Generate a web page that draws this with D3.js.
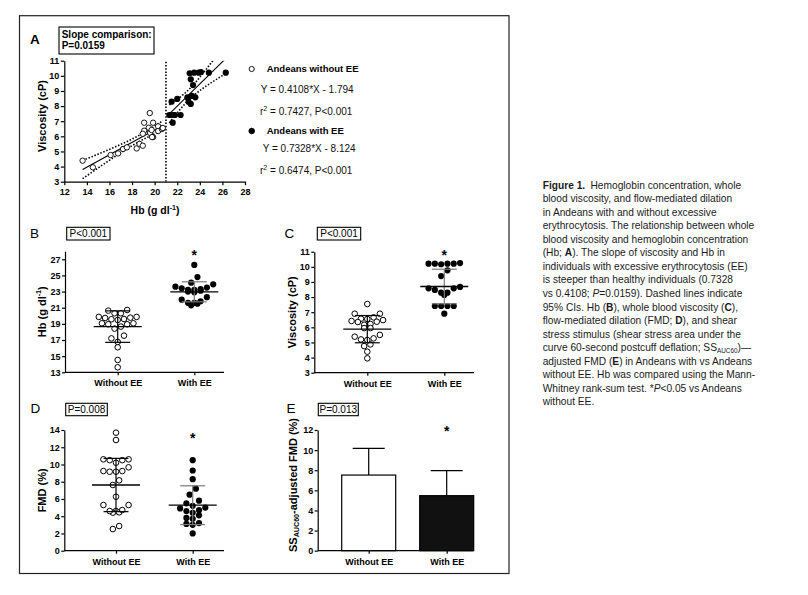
<!DOCTYPE html>
<html><head><meta charset="utf-8">
<script src="https://cdn.jsdelivr.net/npm/d3@7"></script>
<style>
body{margin:0;background:#fff;}
svg{display:block;font-family:"Liberation Sans",Arial,Helvetica,sans-serif;}
</style></head><body>
<svg id="c" width="808" height="595"></svg>
<script>
// ---------------- DATA ----------------
const groups = ["Without EE", "With EE"];
// paired per subject (Hb, viscosity)
const hbWithout   = [13.62,14.53,16.10,16.76,17.20,17.54,18.41,18.66,18.95,19.57,19.07,19.07,18.95,19.48,19.60,19.86,19.73,19.86,20.31,20.31,20.64,20.72,19.77];
const viscWithout = [4.39,3.95,4.76,4.87,5.16,5.27,5.20,5.50,5.38,7.54,6.90,6.37,6.17,6.57,6.22,6.90,6.42,5.95,6.66,6.35,6.48,6.55,5.95];
const hbWith      = [23.1,23.5,23.9,24.1,24.8,26.3,23.2,23.4,21.5,22.0,22.9,23.0,23.6,23.3,23.2,21.3,21.6,21.8,22.3,21.6];
const viscWith    = [10.17,10.21,10.21,10.25,10.21,10.21,9.77,9.39,8.29,8.47,8.58,8.29,8.58,8.67,8.14,7.41,7.41,7.41,7.41,6.90];
const fmdWithout  = [13.69,12.84,10.6,10.5,10.5,10.6,10.2,9.67,9.24,9.16,9.16,9.24,8.16,7.62,6.26,5.3,5.3,4.6,4.45,4.41,4.6,4.72,2.51,2.86];
const fmdWith     = [10.5,9.3,8.3,7.2,6.5,5.8,5.2,5.5,5.0,4.9,4.7,4.6,4.4,4.1,3.8,3.7,3.1,3.0,3.2,2.0];
const hbMean = [18.66, 22.97],  hbSD = [1.95, 1.24];
const viscMean = [5.88, 8.70],  viscSD = [0.90, 1.14];
const fmdMean = [7.62, 5.28],   fmdSD = [3.09, 2.25];
const ssFmdMean = [7.52, 5.47], ssFmdSD = [2.66, 2.49];
const fitSlope = [0.4108, 0.7328], fitIntercept = [-1.794, -8.124];
const fitR2 = ["0.7427", "0.6474"], fitP = ["P<0.001", "P<0.001"];
const legendNames = ["Andeans without EE", "Andeans with EE"];
const tCrit = [2.080, 2.101];
const hbThreshold = 21;
const ticksAx = [12,14,16,18,20,22,24,26,28];
const ticksAy = [3,4,5,6,7,8,9,10,11];
const ticksHb = [13,15,17,19,21,23,25,27];
const ticksVisc = [3,4,5,6,7,8,9,10,11];
const ticksFmd = [0,2,4,6,8,10,12,14];
const ticksSS = [0,2,4,6,8,10,12];
const slopeTitle = "Slope comparison:", slopeP = "P=0.0159";
const panelP = {B: "P<0.001", C: "P<0.001", D: "P=0.008", E: "P=0.013"};
const captionLines = [
  [["Figure 1.","b"],[" Hemoglobin concentration, whole","s"]],
  [["blood viscosity, and flow-mediated dilation"]],
  [["in Andeans with and without excessive"]],
  [["erythrocytosis. The relationship between whole"]],
  [["blood viscosity and hemoglobin concentration"]],
  [["(Hb; "],["A","b"],["). The slope of viscosity and Hb in"]],
  [["individuals with excessive erythrocytosis (EE)"]],
  [["is steeper than healthy individuals (0.7328"]],
  [["vs 0.4108; "],["P","i"],["=0.0159). Dashed lines indicate"]],
  [["95% CIs. Hb ("],["B","b"],["), whole blood viscosity ("],["C","b"],["),"]],
  [["flow-mediated dilation (FMD; "],["D","b"],["), and shear"]],
  [["stress stimulus (shear stress area under the"]],
  [["curve 60-second postcuff deflation; SS"],["AUC60","sub"],[")\u2014","up"]],
  [["adjusted FMD ("],["E","b"],[") in Andeans with vs Andeans"]],
  [["without EE. Hb was compared using the Mann-"]],
  [["Whitney rank-sum test. *"],["P","i"],["<0.05 vs Andeans"]],
  [["without EE."]]
];

// ---------------- HELPERS ----------------
const FONT = '"Liberation Sans", Arial, Helvetica, sans-serif';
const svg = d3.select("#c");

function styleAxis(g) {
  g.attr("font-family", FONT).attr("font-size", 9);
  g.select(".domain").attr("stroke", "#000").attr("stroke-width", 1.2);
  g.selectAll(".tick line").attr("stroke", "#000").attr("stroke-width", 1.2);
  g.selectAll(".tick text").attr("font-weight", "bold").attr("fill", "#000");
}
function text(g, x, y, s, o = {}) {
  return g.append("text").attr("x", x).attr("y", y)
    .attr("font-size", o.fs || 10).attr("font-weight", o.fw || "normal")
    .attr("text-anchor", o.anchor || "start").attr("fill", o.fill || "#000").text(s);
}
function rotLabel(g, x, y, parts, fs) {
  const t = g.append("text").attr("transform", `translate(${x},${y}) rotate(-90)`)
    .attr("text-anchor", "middle").attr("font-size", fs).attr("font-weight", "bold").attr("fill", "#000");
  parts.forEach(p => {
    const ts = t.append("tspan").text(p[0]);
    if (p[1] === "sup") ts.attr("font-size", fs * 0.65).attr("dy", -fs * 0.4);
    if (p[1] === "down") ts.attr("dy", fs * 0.4);
    if (p[1] === "sub") ts.attr("font-size", fs * 0.65).attr("dy", fs * 0.2);
    if (p[1] === "up") ts.attr("dy", -fs * 0.2);
  });
  return t;
}
function pBox(g, x, y, w, h, s) {
  g.append("rect").attr("x", x).attr("y", y).attr("width", w).attr("height", h)
    .attr("fill", "#fff").attr("stroke", "#000").attr("stroke-width", 1.1);
  text(g, x + w / 2, y + h / 2 + 3.6, s, {fs: 10, anchor: "middle"});
}
function star(g, x, cy) { text(g, x, cy + 8, "*", {fs: 14, fw: "bold", anchor: "middle"}); }
// Prism-like row layout of scatter dots
function swarm(values, y, d) {
  const idx = values.map((v, i) => i).sort((a, b) => values[b] - values[a]);
  const rows = []; let cur = null;
  idx.forEach(i => {
    const py = y(values[i]);
    if (cur && Math.abs(py - cur.y0) < d) cur.items.push(i);
    else { cur = {y0: py, items: [i]}; rows.push(cur); }
  });
  const off = new Array(values.length);
  rows.forEach(r => {
    const n = r.items.length;
    const slots = d3.range(n).map(k => (k - (n - 1) / 2) * d)
      .sort((a, b) => Math.abs(a) - Math.abs(b) || a - b);
    r.items.slice().sort((a, b) => values[a] - values[b]).forEach((i, k) => off[i] = slots[k]);
  });
  return off;
}

// frame
svg.append("rect").attr("x", 19.5).attr("y", 15.7).attr("width", 489.5).attr("height", 557.8)
  .attr("fill", "none").attr("stroke", "#222").attr("stroke-width", 1.2);

// ---------------- PANEL A ----------------
{
  const A = {l: 64.3, r: 245, t: 60.7, b: 181.7};
  const x = d3.scaleLinear().domain([12, 28]).range([A.l, A.r]);
  const y = d3.scaleLinear().domain([3, 11]).range([A.b, A.t]);
  const g = svg.append("g");
  g.append("clipPath").attr("id", "clipA").append("rect")
    .attr("x", A.l).attr("y", A.t).attr("width", A.r - A.l).attr("height", A.b - A.t);

  const gl = g.append("g").attr("clip-path", "url(#clipA)");
  // threshold
  gl.append("line").attr("x1", x(hbThreshold)).attr("x2", x(hbThreshold)).attr("y1", y(3)).attr("y2", y(11))
    .attr("stroke", "#000").attr("stroke-width", 1.6).attr("stroke-dasharray", "1.5,1.7");
  const sets = [[hbWithout, viscWithout], [hbWith, viscWith]];
  sets.forEach((s, k) => {
    const xs = s[0], ys = s[1], a = fitSlope[k], b = fitIntercept[k];
    const n = xs.length, xbar = d3.mean(xs), sxx = d3.sum(xs, v => (v - xbar) ** 2);
    const se = Math.sqrt(d3.sum(xs.map((v, i) => (ys[i] - (a * v + b)) ** 2)) / (n - 2));
    const half = v => tCrit[k] * se * Math.sqrt(1 / n + (v - xbar) ** 2 / sxx);
    const [x0, x1] = d3.extent(xs);
    const xsS = d3.range(0, 41).map(i => x0 + (x1 - x0) * i / 40);
    const line = d3.line().x(d => x(d[0])).y(d => y(d[1]));
    gl.append("path").attr("d", line([[x0, a * x0 + b], [x1, a * x1 + b]]))
      .attr("stroke", "#000").attr("stroke-width", 1.1).attr("fill", "none");
    [1, -1].forEach(sg => {
      gl.append("path").attr("d", line(xsS.map(v => [v, a * v + b + sg * half(v)])))
        .attr("stroke", "#000").attr("stroke-width", 1.6).attr("fill", "none").attr("stroke-dasharray", "1.5,1.7");
    });
  });
  // points
  g.append("g").selectAll("circle").data(d3.range(hbWithout.length)).join("circle")
    .attr("cx", i => x(hbWithout[i])).attr("cy", i => y(viscWithout[i])).attr("r", 2.7)
    .attr("fill", "#fff").attr("stroke", "#000").attr("stroke-width", 0.9);
  g.append("g").selectAll("circle").data(d3.range(hbWith.length)).join("circle")
    .attr("cx", i => x(hbWith[i])).attr("cy", i => y(viscWith[i])).attr("r", 3.1).attr("fill", "#000");

  g.append("g").attr("transform", `translate(0,${A.b})`)
    .call(d3.axisBottom(x).tickValues(ticksAx).tickSize(3.5).tickSizeOuter(0).tickPadding(3.5)).call(styleAxis);
  g.append("g").attr("transform", `translate(${A.l},0)`)
    .call(d3.axisLeft(y).tickValues(ticksAy).tickSize(3.5).tickSizeOuter(0).tickPadding(1.5)).call(styleAxis);

  rotLabel(g, 45.5, 116, [["Viscosity (cP)"]], 11);
  const xl = g.append("text").attr("x", 155).attr("y", 214).attr("text-anchor", "middle")
    .attr("font-size", 10.5).attr("font-weight", "bold");
  xl.append("tspan").text("Hb (g dl");
  xl.append("tspan").text("-1").attr("font-size", 7).attr("dy", -4);
  xl.append("tspan").text(")").attr("dy", 4);

  text(g, 30, 43.5, "A", {fs: 13.5, fw: "bold"});
  g.append("rect").attr("x", 59).attr("y", 27).attr("width", 95).attr("height", 27)
    .attr("fill", "#fff").attr("stroke", "#000").attr("stroke-width", 1.1);
  text(g, 61.7, 38, slopeTitle, {fs: 10, fw: "bold"});
  text(g, 61.7, 49, slopeP, {fs: 10, fw: "bold"});

  // legend
  const lg = g.append("g");
  const rowsY = [[69, 89.3, 111.7], [131, 148.7, 170]];
  const eqX = [260.7, 262.7];
  [0, 1].forEach(k => {
    lg.append("circle").attr("cx", 251.7).attr("cy", rowsY[k][0]).attr("r", k ? 2.8 : 2.6)
      .attr("fill", k ? "#000" : "#fff").attr("stroke", "#000").attr("stroke-width", 0.9);
    text(lg, 266.7, rowsY[k][0] + 3.4, legendNames[k], {fs: 9.5, fw: "bold"});
    const sgn = fitIntercept[k] < 0 ? " - " : " + ";
    text(lg, eqX[k], rowsY[k][1] + 3.6, `Y = ${fitSlope[k].toFixed(4)}*X${sgn}${Math.abs(fitIntercept[k]).toFixed(3)}`, {fs: 10, fill: "#111"});
    const r = lg.append("text").attr("x", 260).attr("y", rowsY[k][2] + 3.6).attr("font-size", 10).attr("fill", "#111");
    r.append("tspan").text("r");
    r.append("tspan").text("2").attr("font-size", 7).attr("dy", -4);
    r.append("tspan").text(` = ${fitR2[k]}, ${fitP[k]}`).attr("dy", 4);
  });
}

// ---------------- DOT PANELS B, C, D ----------------
function dotPanel(c) {
  const y = d3.scaleLinear().domain(c.domain).range(c.yRange);
  const x = d3.scalePoint().domain(groups).range(c.centers);
  const g = svg.append("g");
  g.append("g").attr("transform", `translate(${c.axisX},0)`)
    .call(d3.axisLeft(y).tickValues(c.ticks).tickSize(3).tickSizeOuter(0).tickPadding(1.5)).call(styleAxis);
  const xa = g.append("g").attr("transform", `translate(0,${c.yRange[0]})`)
    .call(d3.axisBottom(x).tickSize(3).tickPadding(4.5)).call(styleAxis);
  xa.select(".domain").remove();
  g.append("line").attr("x1", c.axisX).attr("x2", c.axisEnd).attr("y1", c.yRange[0]).attr("y2", c.yRange[0])
    .attr("stroke", "#000").attr("stroke-width", 1.2);

  c.series.forEach((vals, k) => {
    const off = swarm(vals, y, 6.3);
    g.append("g").selectAll("circle").data(vals).join("circle")
      .attr("cx", (d, i) => x(groups[k]) + off[i]).attr("cy", d => y(d)).attr("r", k ? 3.1 : 2.8)
      .attr("fill", k ? "#000" : "#fff").attr("stroke", "#000").attr("stroke-width", k ? 0 : 1);
    const cx = x(groups[k]), m = c.mean[k], s = c.sd[k];
    const col = k ? "#7a7a7a" : "#000";
    g.append("line").attr("x1", cx).attr("x2", cx).attr("y1", y(m - s)).attr("y2", y(m + s))
      .attr("stroke", col).attr("stroke-width", 1.2);
    [m - s, m + s].forEach(v => g.append("line").attr("x1", cx - 12.5).attr("x2", cx + 12.5)
      .attr("y1", y(v)).attr("y2", y(v)).attr("stroke", col).attr("stroke-width", 1.2));
    g.append("line").attr("x1", cx - 24).attr("x2", cx + 24).attr("y1", y(m)).attr("y2", y(m))
      .attr("stroke", "#000").attr("stroke-width", 1.3);
  });
  rotLabel(g, c.yLabelX, (c.yRange[0] + c.yRange[1]) / 2, c.yLabel, 11);
  text(g, c.letter[1], c.letter[2], c.letter[0], {fs: 13.5});
  pBox(g, c.pBox[0], c.pBox[1], c.pBox[2], c.pBox[3], c.pText);
  star(g, x(groups[1]), c.starY);
}

dotPanel({axisX: 65, axisEnd: 224, yRange: [372.3, 251.2], domain: [13, 28], ticks: ticksHb,
  centers: [117.7, 194.3], series: [hbWithout, hbWith], mean: hbMean, sd: hbSD,
  yLabel: [["Hb (g dl"], ["-1", "sup"], [")", "down"]], yLabelX: 45.5,
  letter: ["B", 30, 238], pBox: [66.7, 227.3, 43.3, 12.7], pText: panelP.B, starY: 252});
dotPanel({axisX: 314.3, axisEnd: 474, yRange: [372.7, 251.7], domain: [3, 11], ticks: ticksVisc,
  centers: [367.3, 444.3], series: [viscWithout, viscWith], mean: viscMean, sd: viscSD,
  yLabel: [["Viscosity (cP)"]], yLabelX: 295.5,
  letter: ["C", 284.5, 237.5], pBox: [317.3, 227.3, 43.4, 12.7], pText: panelP.C, starY: 252});
dotPanel({axisX: 64.3, axisEnd: 224, yRange: [550.7, 430], domain: [0, 14], ticks: ticksFmd,
  centers: [116, 192.7], series: [fmdWithout, fmdWith], mean: fmdMean, sd: fmdSD,
  yLabel: [["FMD (%)"]], yLabelX: 45.5,
  letter: ["D", 30.5, 413], pBox: [65.7, 403.3, 41.6, 12.4], pText: panelP.D, starY: 434.5});

// ---------------- PANEL E ----------------
{
  const y = d3.scaleLinear().domain([0, 12]).range([550.7, 430]);
  const x = d3.scalePoint().domain(groups).range([368.7, 446.7]);
  const g = svg.append("g");
  const bw = 54;
  groups.forEach((grp, k) => {
    const cx = x(grp), m = ssFmdMean[k], s = ssFmdSD[k];
    g.append("line").attr("x1", cx).attr("x2", cx).attr("y1", y(m)).attr("y2", y(m + s)).attr("stroke", "#000").attr("stroke-width", 1.2);
    g.append("line").attr("x1", cx - 16).attr("x2", cx + 16).attr("y1", y(m + s)).attr("y2", y(m + s)).attr("stroke", "#000").attr("stroke-width", 1.2);
    g.append("rect").attr("x", cx - bw / 2).attr("y", y(m)).attr("width", bw).attr("height", y(0) - y(m))
      .attr("fill", k ? "#111" : "#fff").attr("stroke", "#000").attr("stroke-width", 1.2);
  });
  g.append("g").attr("transform", `translate(317.7,0)`)
    .call(d3.axisLeft(y).tickValues(ticksSS).tickSize(3).tickSizeOuter(0).tickPadding(1.5)).call(styleAxis);
  const xa = g.append("g").attr("transform", `translate(0,${y(0)})`)
    .call(d3.axisBottom(x).tickSize(3).tickPadding(5)).call(styleAxis);
  xa.select(".domain").remove();
  g.append("line").attr("x1", 317.7).attr("x2", 473.3).attr("y1", y(0)).attr("y2", y(0)).attr("stroke", "#000").attr("stroke-width", 1.2);
  rotLabel(g, 297, 485, [["SS"], ["AUC60", "sub"], ["-adjusted FMD (%)", "up"]], 11);
  text(g, 286.5, 413, "E", {fs: 13.5});
  pBox(g, 318.3, 403.3, 40, 12.4, panelP.E);
  star(g, x(groups[1]), 428);
}

// ---------------- CAPTION ----------------
{
  const g = svg.append("g");
  captionLines.forEach((segs, i) => {
    const t = g.append("text").attr("x", 542.7).attr("y", 185 + i * 13.55 + 3.6).attr("font-size", 10.2).attr("fill", "#1a1a1a");
    segs.forEach(s => {
      const ts = t.append("tspan").text(s[0]);
      if (s[1] === "b") ts.attr("font-weight", "bold");
      if (s[1] === "i") ts.attr("font-style", "italic");
      if (s[1] === "s") ts.attr("dx", 2.5);
      if (s[1] === "sub") ts.attr("font-size", 6.4).attr("dy", 2);
      if (s[1] === "up") ts.attr("dy", -2);
    });
  });
}
</script>
</body></html>
